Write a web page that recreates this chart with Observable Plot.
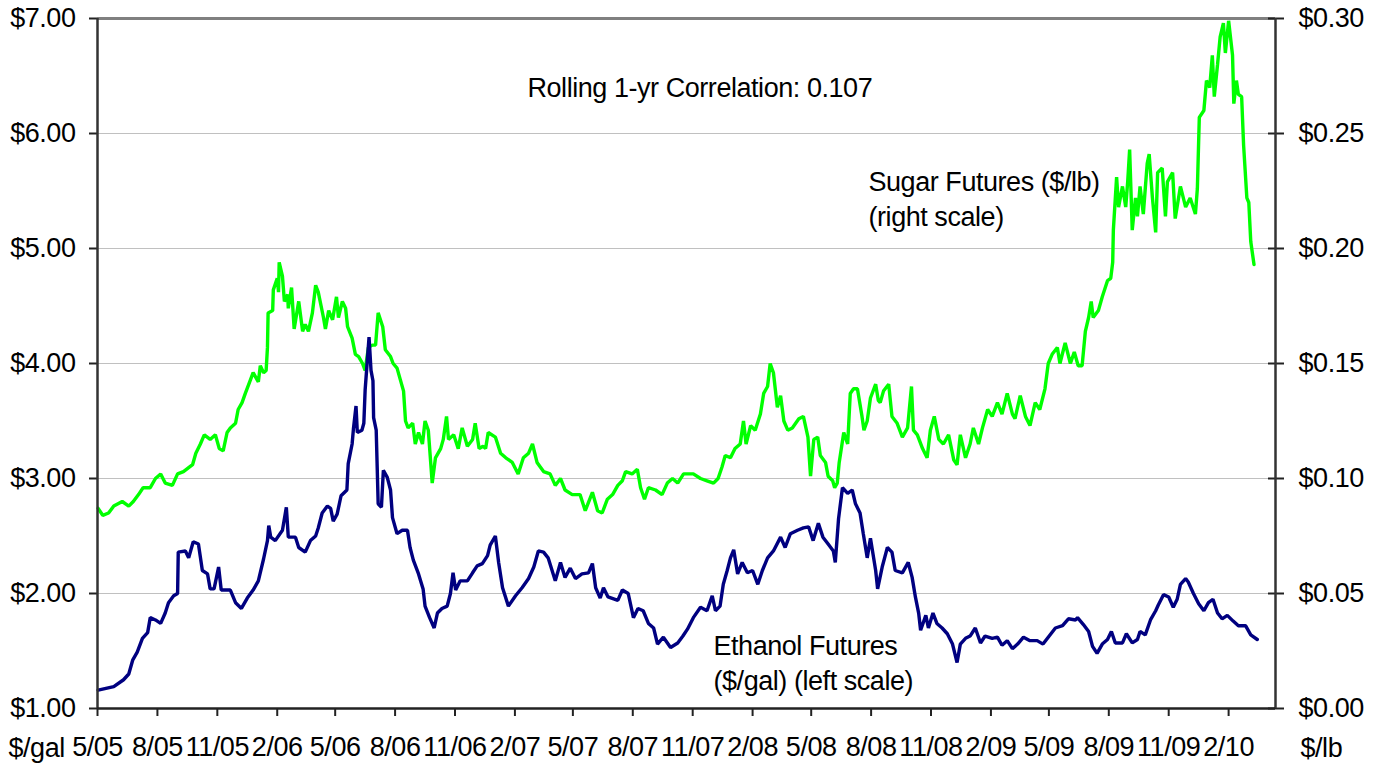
<!DOCTYPE html>
<html><head><meta charset="utf-8">
<script src="https://cdn.jsdelivr.net/npm/d3@7"></script>
<script src="https://cdn.jsdelivr.net/npm/@observablehq/plot@0.6"></script>
<style>body{margin:0;background:#fff;}</style>
</head><body><div id="chart"></div>
<script>
// Ethanol futures, $/gal (left scale)
const ethanol = [["2005-05-02",1.16],["2005-05-26",1.19],["2005-06-10",1.25],["2005-06-18",1.30],["2005-06-24",1.42],["2005-07-01",1.49],["2005-07-09",1.61],["2005-07-17",1.66],["2005-07-21",1.79],["2005-07-29",1.77],["2005-08-06",1.74],["2005-08-13",1.83],["2005-08-18",1.92],["2005-08-26",1.98],["2005-09-01",2.00],["2005-09-02",2.36],["2005-09-13",2.37],["2005-09-18",2.31],["2005-09-25",2.45],["2005-10-03",2.43],["2005-10-09",2.20],["2005-10-17",2.17],["2005-10-21",2.04],["2005-10-27",2.04],["2005-11-03",2.23],["2005-11-07",2.03],["2005-11-21",2.03],["2005-11-29",1.92],["2005-12-08",1.87],["2005-12-17",1.96],["2005-12-26",2.03],["2006-01-03",2.11],["2006-01-11",2.30],["2006-01-17",2.46],["2006-01-19",2.59],["2006-01-22",2.49],["2006-01-29",2.46],["2006-02-09",2.55],["2006-02-15",2.75],["2006-02-18",2.49],["2006-03-01",2.49],["2006-03-06",2.40],["2006-03-16",2.36],["2006-03-24",2.46],["2006-04-01",2.50],["2006-04-05",2.57],["2006-04-11",2.70],["2006-04-19",2.76],["2006-04-24",2.74],["2006-04-28",2.63],["2006-05-04",2.69],["2006-05-10",2.85],["2006-05-19",2.90],["2006-05-21",3.13],["2006-05-27",3.30],["2006-05-29",3.43],["2006-06-02",3.63],["2006-06-04",3.40],["2006-06-11",3.42],["2006-06-14",3.48],["2006-06-16",3.77],["2006-06-19",4.00],["2006-06-22",4.23],["2006-06-25",3.94],["2006-06-28",3.85],["2006-06-29",3.53],["2006-07-03",3.42],["2006-07-06",2.78],["2006-07-11",2.75],["2006-07-14",3.07],["2006-07-20",3.01],["2006-07-25",2.90],["2006-07-28",2.66],["2006-08-04",2.52],["2006-08-12",2.55],["2006-08-20",2.55],["2006-08-24",2.40],["2006-08-29",2.29],["2006-09-06",2.17],["2006-09-13",2.04],["2006-09-16",1.89],["2006-09-23",1.79],["2006-09-30",1.70],["2006-10-05",1.83],["2006-10-12",1.87],["2006-10-20",1.89],["2006-10-25",2.00],["2006-10-29",2.18],["2006-11-02",2.03],["2006-11-09",2.11],["2006-11-20",2.11],["2006-11-28",2.18],["2006-12-05",2.24],["2006-12-13",2.26],["2006-12-21",2.33],["2006-12-25",2.42],["2007-01-02",2.50],["2007-01-07",2.27],["2007-01-13",2.05],["2007-01-22",1.89],["2007-02-02",1.98],["2007-02-12",2.05],["2007-02-22",2.13],["2007-03-02",2.23],["2007-03-09",2.37],["2007-03-17",2.36],["2007-03-24",2.31],["2007-04-04",2.11],["2007-04-12",2.27],["2007-04-19",2.14],["2007-04-27",2.22],["2007-05-05",2.13],["2007-05-15",2.17],["2007-05-25",2.18],["2007-05-31",2.26],["2007-06-05",2.05],["2007-06-12",1.96],["2007-06-17",2.05],["2007-06-24",1.97],["2007-07-09",1.94],["2007-07-16",2.03],["2007-07-25",2.00],["2007-08-02",1.79],["2007-08-09",1.87],["2007-08-17",1.85],["2007-08-25",1.74],["2007-09-02",1.70],["2007-09-08",1.56],["2007-09-17",1.62],["2007-09-28",1.53],["2007-10-09",1.57],["2007-10-17",1.63],["2007-10-24",1.69],["2007-11-02",1.79],["2007-11-13",1.88],["2007-11-23",1.85],["2007-12-01",1.98],["2007-12-06",1.85],["2007-12-13",1.89],["2007-12-18",2.08],["2007-12-24",2.20],["2007-12-29",2.31],["2008-01-03",2.38],["2008-01-09",2.17],["2008-01-16",2.27],["2008-01-24",2.18],["2008-02-01",2.20],["2008-02-09",2.08],["2008-02-16",2.20],["2008-02-24",2.31],["2008-03-04",2.37],["2008-03-15",2.49],["2008-03-22",2.40],["2008-03-30",2.52],["2008-04-10",2.55],["2008-04-19",2.57],["2008-04-27",2.58],["2008-05-04",2.46],["2008-05-12",2.61],["2008-05-19",2.49],["2008-05-27",2.43],["2008-06-04",2.37],["2008-06-07",2.27],["2008-06-12",2.65],["2008-06-18",2.92],["2008-06-26",2.87],["2008-07-03",2.90],["2008-07-08",2.78],["2008-07-15",2.70],["2008-07-20",2.52],["2008-07-26",2.31],["2008-07-31",2.48],["2008-08-08",2.20],["2008-08-11",2.04],["2008-08-18",2.23],["2008-08-26",2.40],["2008-09-02",2.36],["2008-09-07",2.20],["2008-09-18",2.18],["2008-09-27",2.27],["2008-10-03",2.14],["2008-10-08",1.97],["2008-10-13",1.83],["2008-10-16",1.68],["2008-10-24",1.81],["2008-10-28",1.70],["2008-11-04",1.83],["2008-11-10",1.74],["2008-11-18",1.70],["2008-11-26",1.65],["2008-12-04",1.56],["2008-12-11",1.40],["2008-12-16",1.56],["2008-12-24",1.61],["2008-12-31",1.63],["2009-01-08",1.70],["2009-01-16",1.57],["2009-01-23",1.63],["2009-02-03",1.61],["2009-02-11",1.62],["2009-02-18",1.55],["2009-02-26",1.59],["2009-03-06",1.52],["2009-03-14",1.56],["2009-03-23",1.62],["2009-04-02",1.59],["2009-04-13",1.59],["2009-04-22",1.56],["2009-04-30",1.62],["2009-05-11",1.70],["2009-05-22",1.72],["2009-05-31",1.78],["2009-06-11",1.77],["2009-06-14",1.79],["2009-06-23",1.73],["2009-07-01",1.67],["2009-07-07",1.54],["2009-07-14",1.48],["2009-07-22",1.56],["2009-07-30",1.60],["2009-08-05",1.67],["2009-08-11",1.57],["2009-08-22",1.57],["2009-08-28",1.65],["2009-09-06",1.57],["2009-09-14",1.60],["2009-09-18",1.67],["2009-09-26",1.64],["2009-10-04",1.77],["2009-10-12",1.85],["2009-10-16",1.90],["2009-10-24",1.99],["2009-11-01",1.97],["2009-11-08",1.88],["2009-11-14",1.95],["2009-11-19",2.08],["2009-11-27",2.13],["2009-12-01",2.10],["2009-12-09",2.00],["2009-12-17",1.91],["2009-12-25",1.85],["2010-01-01",1.92],["2010-01-08",1.95],["2010-01-15",1.83],["2010-01-22",1.78],["2010-01-30",1.81],["2010-02-08",1.76],["2010-02-16",1.72],["2010-02-27",1.72],["2010-03-07",1.64],["2010-03-17",1.60]];

// Sugar futures, $/lb (right scale)
const sugar = [["2005-05-02",0.087],["2005-05-09",0.084],["2005-05-18",0.085],["2005-05-26",0.088],["2005-06-08",0.090],["2005-06-18",0.088],["2005-06-25",0.090],["2005-07-03",0.093],["2005-07-10",0.096],["2005-07-21",0.096],["2005-07-29",0.100],["2005-08-06",0.102],["2005-08-13",0.098],["2005-08-24",0.097],["2005-09-01",0.102],["2005-09-10",0.103],["2005-09-24",0.106],["2005-09-29",0.111],["2005-10-06",0.115],["2005-10-12",0.119],["2005-10-21",0.117],["2005-10-29",0.119],["2005-11-04",0.113],["2005-11-10",0.112],["2005-11-16",0.120],["2005-11-21",0.122],["2005-11-29",0.124],["2005-12-03",0.130],["2005-12-09",0.133],["2005-12-14",0.137],["2005-12-22",0.143],["2005-12-26",0.146],["2006-01-03",0.142],["2006-01-06",0.149],["2006-01-11",0.146],["2006-01-15",0.147],["2006-01-17",0.157],["2006-01-18",0.172],["2006-01-25",0.173],["2006-01-26",0.182],["2006-02-01",0.187],["2006-02-03",0.181],["2006-02-04",0.194],["2006-02-09",0.188],["2006-02-12",0.177],["2006-02-17",0.180],["2006-02-18",0.174],["2006-02-23",0.183],["2006-02-27",0.165],["2006-03-06",0.177],["2006-03-12",0.164],["2006-03-16",0.167],["2006-03-21",0.164],["2006-03-27",0.172],["2006-04-01",0.184],["2006-04-05",0.181],["2006-04-13",0.170],["2006-04-16",0.165],["2006-04-21",0.173],["2006-04-27",0.169],["2006-05-03",0.179],["2006-05-06",0.170],["2006-05-12",0.177],["2006-05-17",0.174],["2006-05-20",0.166],["2006-05-27",0.161],["2006-06-01",0.154],["2006-06-06",0.153],["2006-06-12",0.150],["2006-06-16",0.147],["2006-06-21",0.157],["2006-06-27",0.158],["2006-07-02",0.158],["2006-07-06",0.172],["2006-07-13",0.166],["2006-07-17",0.156],["2006-07-25",0.153],["2006-07-29",0.150],["2006-08-04",0.148],["2006-08-09",0.143],["2006-08-14",0.138],["2006-08-17",0.125],["2006-08-21",0.122],["2006-08-28",0.124],["2006-09-01",0.115],["2006-09-06",0.120],["2006-09-12",0.115],["2006-09-16",0.125],["2006-09-21",0.121],["2006-09-27",0.098],["2006-10-02",0.109],["2006-10-10",0.113],["2006-10-14",0.117],["2006-10-19",0.127],["2006-10-22",0.117],["2006-10-30",0.119],["2006-11-06",0.113],["2006-11-12",0.122],["2006-11-20",0.114],["2006-11-28",0.117],["2006-12-02",0.124],["2006-12-08",0.113],["2006-12-14",0.114],["2006-12-18",0.113],["2006-12-22",0.120],["2007-01-02",0.118],["2007-01-10",0.111],["2007-01-18",0.109],["2007-01-28",0.107],["2007-02-06",0.102],["2007-02-14",0.109],["2007-02-22",0.111],["2007-02-28",0.115],["2007-03-07",0.107],["2007-03-17",0.103],["2007-03-27",0.102],["2007-04-04",0.097],["2007-04-12",0.100],["2007-04-19",0.095],["2007-04-30",0.093],["2007-05-12",0.093],["2007-05-20",0.086],["2007-05-31",0.094],["2007-06-08",0.086],["2007-06-15",0.085],["2007-06-23",0.091],["2007-07-01",0.093],["2007-07-09",0.097],["2007-07-16",0.099],["2007-07-21",0.103],["2007-07-31",0.102],["2007-08-08",0.104],["2007-08-13",0.096],["2007-08-19",0.091],["2007-08-25",0.096],["2007-09-05",0.095],["2007-09-15",0.093],["2007-09-23",0.098],["2007-10-01",0.100],["2007-10-09",0.098],["2007-10-18",0.102],["2007-11-02",0.102],["2007-11-13",0.100],["2007-11-23",0.099],["2007-12-03",0.098],["2007-12-10",0.100],["2007-12-16",0.105],["2007-12-21",0.110],["2007-12-29",0.109],["2008-01-05",0.113],["2008-01-13",0.115],["2008-01-18",0.125],["2008-01-22",0.115],["2008-01-29",0.123],["2008-02-05",0.121],["2008-02-13",0.128],["2008-02-18",0.137],["2008-02-24",0.140],["2008-02-28",0.150],["2008-03-04",0.146],["2008-03-10",0.131],["2008-03-15",0.136],["2008-03-20",0.125],["2008-03-26",0.121],["2008-04-02",0.122],["2008-04-12",0.126],["2008-04-19",0.127],["2008-04-26",0.118],["2008-04-30",0.101],["2008-05-05",0.117],["2008-05-11",0.118],["2008-05-15",0.110],["2008-05-23",0.107],["2008-05-27",0.101],["2008-06-03",0.099],["2008-06-06",0.096],["2008-06-10",0.098],["2008-06-13",0.107],["2008-06-20",0.120],["2008-06-26",0.115],["2008-06-30",0.137],["2008-07-05",0.139],["2008-07-11",0.139],["2008-07-18",0.127],["2008-07-21",0.121],["2008-07-26",0.125],["2008-07-31",0.135],["2008-08-08",0.141],["2008-08-12",0.134],["2008-08-15",0.133],["2008-08-20",0.138],["2008-08-28",0.141],["2008-09-02",0.127],["2008-09-10",0.124],["2008-09-18",0.118],["2008-09-26",0.122],["2008-10-02",0.140],["2008-10-05",0.121],["2008-10-11",0.119],["2008-10-19",0.113],["2008-10-26",0.109],["2008-10-31",0.121],["2008-11-06",0.127],["2008-11-13",0.117],["2008-11-20",0.115],["2008-11-28",0.119],["2008-12-06",0.108],["2008-12-11",0.106],["2008-12-16",0.119],["2008-12-24",0.109],["2008-12-31",0.115],["2009-01-05",0.122],["2009-01-13",0.115],["2009-01-19",0.122],["2009-01-27",0.130],["2009-02-03",0.127],["2009-02-11",0.133],["2009-02-18",0.128],["2009-02-26",0.137],["2009-03-06",0.128],["2009-03-10",0.126],["2009-03-18",0.136],["2009-03-26",0.127],["2009-04-02",0.123],["2009-04-10",0.133],["2009-04-17",0.130],["2009-04-25",0.139],["2009-04-30",0.150],["2009-05-06",0.154],["2009-05-14",0.157],["2009-05-18",0.150],["2009-05-26",0.159],["2009-06-03",0.150],["2009-06-09",0.155],["2009-06-15",0.149],["2009-06-21",0.149],["2009-06-26",0.164],["2009-07-01",0.170],["2009-07-05",0.177],["2009-07-08",0.170],["2009-07-16",0.173],["2009-07-22",0.179],["2009-07-30",0.186],["2009-08-04",0.187],["2009-08-07",0.194],["2009-08-08",0.208],["2009-08-13",0.231],["2009-08-16",0.218],["2009-08-22",0.227],["2009-08-27",0.218],["2009-08-30",0.229],["2009-09-02",0.243],["2009-09-06",0.208],["2009-09-11",0.222],["2009-09-14",0.214],["2009-09-18",0.227],["2009-09-23",0.215],["2009-09-29",0.237],["2009-10-02",0.241],["2009-10-07",0.222],["2009-10-12",0.207],["2009-10-15",0.233],["2009-10-22",0.235],["2009-10-27",0.214],["2009-10-30",0.229],["2009-11-07",0.233],["2009-11-11",0.213],["2009-11-19",0.227],["2009-11-27",0.218],["2009-12-04",0.222],["2009-12-12",0.215],["2009-12-15",0.226],["2009-12-18",0.257],["2009-12-25",0.260],["2009-12-29",0.273],["2010-01-03",0.270],["2010-01-07",0.284],["2010-01-10",0.266],["2010-01-15",0.280],["2010-01-19",0.292],["2010-01-24",0.298],["2010-01-27",0.285],["2010-02-01",0.299],["2010-02-07",0.284],["2010-02-09",0.263],["2010-02-13",0.273],["2010-02-16",0.267],["2010-02-21",0.266],["2010-02-24",0.245],["2010-03-01",0.222],["2010-03-04",0.220],["2010-03-07",0.203],["2010-03-12",0.193]];

const xTickDates = ["2005-05-01","2005-08-01","2005-11-01","2006-02-01","2006-05-01","2006-08-01","2006-11-01","2007-02-01","2007-05-01","2007-08-01","2007-11-01","2008-02-01","2008-05-01","2008-08-01","2008-11-01","2009-02-01","2009-05-01","2009-08-01","2009-11-01","2010-02-01"];
const xTickLabels = ["5/05","8/05","11/05","2/06","5/06","8/06","11/06","2/07","5/07","8/07","11/07","2/08","5/08","8/08","11/08","2/09","5/09","8/09","11/09","2/10"];
const leftTicks = [1, 2, 3, 4, 5, 6, 7];
const leftTickLabels = ["$1.00","$2.00","$3.00","$4.00","$5.00","$6.00","$7.00"];
const rightTickLabels = ["$0.00","$0.05","$0.10","$0.15","$0.20","$0.25","$0.30"];
const xDomainDates = ["2005-05-01", "2010-04-14"];
const sugarPerDollarGal = 0.05; // right scale: $0.05/lb per $1.00/gal step, $0.00 at $1.00

const parse = d3.utcParse("%Y-%m-%d");
const eth = ethanol.map(([d, v]) => ({date: parse(d), value: v}));
const sug = sugar.map(([d, v]) => ({date: parse(d), value: v}));
const xTicks = xTickDates.map(parse);
const xDomain = xDomainDates.map(parse);
const toLeft = (s) => 1 + s / sugarPerDollarGal;

const FS = 27;
const chart = Plot.plot({
  width: 1380,
  height: 767,
  marginLeft: 97,
  marginRight: 105,
  marginTop: 18,
  marginBottom: 59,
  style: {fontFamily: "'Liberation Sans', Arial, sans-serif", fontSize: FS + "px", letterSpacing: "-0.45px", color: "#000", background: "#fff", overflow: "visible"},
  x: {type: "utc", domain: xDomain},
  y: {domain: [1, 7]},
  marks: [
    Plot.ruleY(leftTicks.slice(1, -1), {stroke: "#c0c0c0", strokeWidth: 1.2}),
    Plot.ruleY([7], {stroke: "#808080", strokeWidth: 3}),
    Plot.axisY({anchor: "left", ticks: leftTicks, tickSize: 8, tickPadding: 14, stroke: "#222", strokeWidth: 2,
      tickFormat: d => leftTickLabels[leftTicks.indexOf(d)], label: null, fontSize: FS}),
    Plot.axisY({anchor: "right", ticks: leftTicks, tickSize: 8, tickPadding: 15, stroke: "#222", strokeWidth: 2,
      tickFormat: d => rightTickLabels[leftTicks.indexOf(d)], label: null, fontSize: FS}),
    Plot.axisY({anchor: "right", ticks: leftTicks, tickSize: -8, stroke: "#222", strokeWidth: 2,
      tickFormat: () => "", label: null}),
    Plot.axisX({ticks: xTicks, tickSize: 8, tickPadding: 20, stroke: "#222", strokeWidth: 2,
      tickFormat: d => xTickLabels[xTicks.findIndex(t => +t === +d)], label: null, fontSize: FS}),
    Plot.line(sug, {x: "date", y: d => toLeft(d.value), stroke: "#00ff00", strokeWidth: 3.4, strokeLinejoin: "miter"}),
    Plot.line(eth, {x: "date", y: "value", stroke: "#000080", strokeWidth: 3.4, strokeLinejoin: "miter"}),
    Plot.ruleX([xDomain[0]], {stroke: "#333", strokeWidth: 2.5}),
    Plot.ruleX([xDomain[1]], {stroke: "#333", strokeWidth: 2.5}),
    Plot.ruleY([1], {stroke: "#222", strokeWidth: 2.5}),
    Plot.text(["Rolling 1-yr Correlation: 0.107"], {frameAnchor: "top-left", dx: 430, dy: 70, textAnchor: "start", lineAnchor: "middle", fontSize: FS, fill: "#000"}),
    Plot.text(["Sugar Futures ($/lb)\n(right scale)"], {frameAnchor: "top-left", dx: 771, dy: 179, textAnchor: "start", lineAnchor: "middle", lineHeight: 1.27, fontSize: FS, fill: "#000"}),
    Plot.text(["Ethanol Futures\n($/gal) (left scale)"], {frameAnchor: "top-left", dx: 616, dy: 643, textAnchor: "start", lineAnchor: "middle", lineHeight: 1.27, fontSize: FS, fill: "#000"}),
    Plot.text(["$/gal"], {frameAnchor: "bottom-left", dx: -89, dy: 40, textAnchor: "start", lineAnchor: "middle", fontSize: FS, fill: "#000"}),
    Plot.text(["$/lb"], {frameAnchor: "bottom-right", dx: 25, dy: 40, textAnchor: "start", lineAnchor: "middle", fontSize: FS, fill: "#000"})
  ]
});
document.getElementById("chart").appendChild(chart);
</script>
</body></html>
